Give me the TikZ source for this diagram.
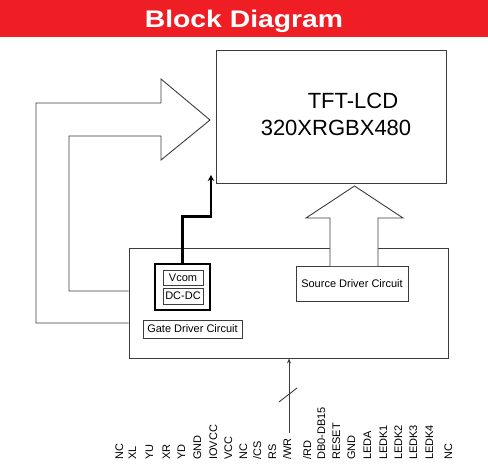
\documentclass[tikz,border=0pt]{standalone}
\usepackage{fontspec}
\setmainfont{Liberation Sans}
\usetikzlibrary{arrows.meta}
\definecolor{bannerred}{RGB}{238,30,36}
\definecolor{linegray}{RGB}{60,60,60}
\tikzset{
  thin line/.style={draw=linegray, line width=0.9pt},
  box/.style={thin line, rectangle, inner sep=0pt},
  thick box/.style={draw=black, line width=2.6pt, rectangle, inner sep=0pt},
  small text/.style={font=\fontsize{11}{13}\selectfont, text=black},
  big text/.style={font=\fontsize{22}{26}\selectfont, text=black, inner sep=0pt},
  pinlabel/.style={font=\fontsize{11}{13}\selectfont, rotate=90, anchor=west,
    inner sep=0pt, text height=8pt, text depth=0pt},
  bigarrow/.style={thin line, fill=white, line join=miter},
  feed/.style={draw=black, line width=2.6pt, line join=miter,
    -{Stealth[length=6pt,width=6.5pt]}},
  bus/.style={thin line, -{Stealth[length=5pt,width=4pt]}}
}
\begin{document}
\begin{tikzpicture}[x=1pt,y=-1pt]
  \useasboundingbox (0,0) rectangle (488,464);
  \fill[white] (0,0) rectangle (488,464);

  % title banner
  \fill[bannerred] (0,0) rectangle (488,37);
  \node[anchor=base, inner sep=0pt, text=white,
        font=\bfseries\fontsize{24}{28}\selectfont] (title) at (244,27)
        {\scalebox{1.18}[1]{Block Diagram}};

  % panel
  \node[box, minimum width=230pt, minimum height=133pt] (lcd) at (331,116.5) {};
  \node[big text] (lcdname) at (353,101) {TFT-LCD};
  \node[big text] (lcdres) at (336,128) {320XRGBX480};

  % driver IC
  \node[box, minimum width=319pt, minimum height=110pt] (ic) at (288.5,303) {};

  % source side: wide arrow up into the panel
  \node[box, minimum width=112pt, minimum height=35pt, small text] (src) at (352,283.5)
        {Source Driver Circuit};
  \draw[bigarrow] (330,266) -- (330,218) -- (306,218) -- (354.5,186)
        -- (403,218) -- (378,218) -- (378,266);

  % gate side: wide arrow round the left into the panel
  \draw[thin line, line join=miter]
        (ic.west |- 0,323) -- (36,323) -- (36,103) -- (161,103) -- (161,79)
        -- (210,120) -- (161,160) -- (161,136) -- (69,136) -- (69,291)
        -- (ic.west |- 0,291);
  \node[box, minimum width=99pt, minimum height=18pt, small text] (gate) at (192.5,329)
        {Gate Driver Circuit};

  % Vcom / DC-DC block
  \node[thick box, minimum width=55pt, minimum height=46pt] (vbox) at (182.5,287) {};
  \node[box, minimum width=40pt, minimum height=15pt, small text] (vcom) at (183,277.5) {Vcom};
  \node[box, minimum width=40pt, minimum height=16pt, small text] (dcdc) at (183,296) {DC-DC};
  \coordinate (vcomtip) at (211,175);
  \draw[feed] (vbox.north) -- ++(0,-46) -| (vcomtip);

  % interface bus
  \coordinate (busend) at (289,433);
  \draw[bus] (busend) -- (busend |- ic.south);
  \draw[thin line] (279,402) -- (297,388);

  % pin names
  \foreach \x/\t [count=\i] in {119/NC, 132/XL, 149/YU, 166/XR, 181/YD, 197/GND,
      213/IOVCC, 228/VCC, 243/NC, 257/{/CS}, 272/RS, 287/{/WR}, 307/{/RD},
      321/DB0-DB15, 336/RESET, 351/GND, 367/LEDA, 383/LEDK1, 398/LEDK2,
      413/LEDK3, 429/LEDK4, 448/NC}
    \node[pinlabel] (pin\i) at (\x,460) {\t};
\end{tikzpicture}
\end{document}
